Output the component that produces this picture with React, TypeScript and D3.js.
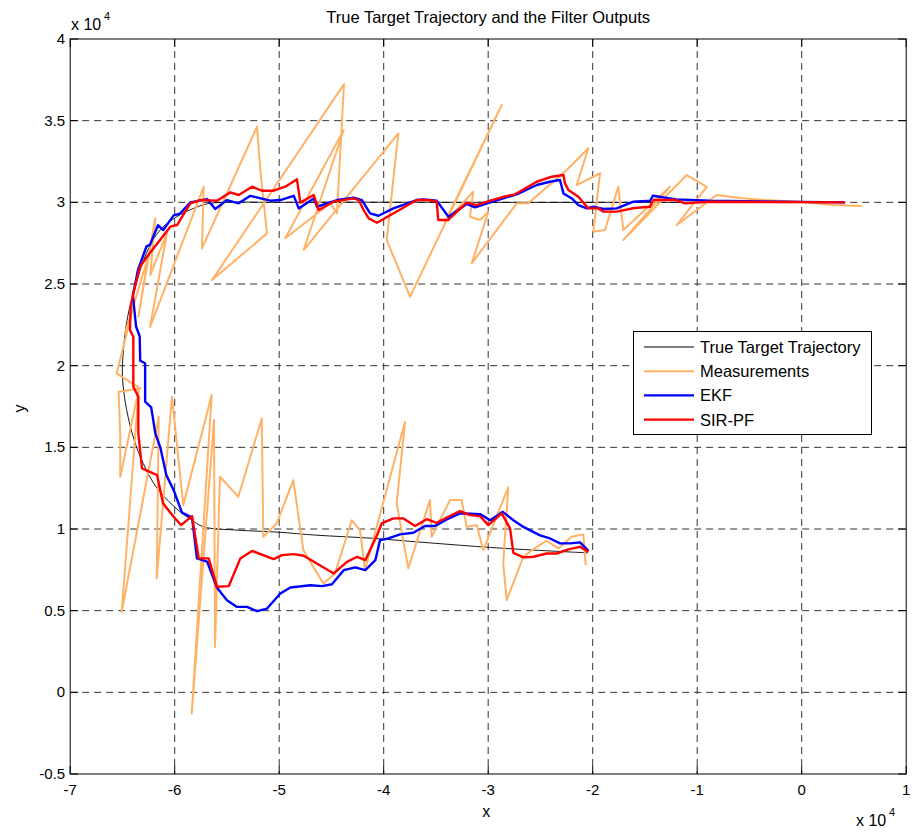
import * as React from 'react';
import * as d3 from 'd3';

// values in units of 1e4
const xTicks = [-7, -6, -5, -4, -3, -2, -1, 0, 1];
const yTicks = [-0.5, 0, 0.5, 1, 1.5, 2, 2.5, 3, 3.5, 4];

const truth: [number, number][] = [
  [0.4, 3.0], [-1.0, 3.0], [-3.0, 3.0], [-5.0, 3.0], [-5.66, 2.994], [-5.82, 2.963],
  [-5.98, 2.912], [-6.14, 2.83], [-6.27, 2.69], [-6.37, 2.5], [-6.45, 2.3], [-6.49, 2.1],
  [-6.5, 1.93], [-6.46, 1.73], [-6.39, 1.55], [-6.3, 1.4], [-6.18, 1.26], [-6.01, 1.14],
  [-5.85, 1.06], [-5.72, 1.013], [-5.4, 0.993], [-5.02, 0.981], [-4.64, 0.962],
  [-4.13, 0.944], [-3.56, 0.915], [-2.98, 0.887], [-2.54, 0.87], [-2.05, 0.854],
];

const measurements: [number, number][] = [
  [0.574, 2.977], [0.299, 2.983], [-0.017, 3.004], [-0.351, 3.014], [-0.591, 3.026],
  [-0.814, 3.045], [-1.196, 2.861], [-0.909, 3.095], [-1.101, 3.167], [-1.707, 2.769],
  [-1.261, 3.095], [-1.707, 2.83], [-1.755, 3.095], [-1.883, 2.83], [-1.994, 2.82],
  [-1.93, 3.178], [-2.153, 3.106], [-2.042, 3.331], [-2.249, 3.198], [-2.616, 2.994],
  [-2.727, 2.994], [-3.158, 2.626], [-2.999, 2.942], [-3.079, 2.892], [-3.174, 2.912],
  [-3.143, 3.065], [-3.414, 2.879], [-2.871, 3.596], [-3.748, 2.422], [-3.971, 2.769],
  [-3.86, 3.422], [-4.766, 2.708], [-4.383, 3.443], [-4.942, 2.78], [-4.511, 2.994],
  [-4.447, 2.933], [-4.38, 3.724], [-5.643, 2.524], [-5.117, 2.81], [-5.181, 3.198],
  [-5.212, 3.463], [-5.739, 2.718], [-5.723, 3.095], [-6.236, 2.236], [-6.074, 2.812],
  [-6.234, 2.555], [-6.186, 2.902], [-6.348, 2.299], [-6.253, 2.667], [-6.476, 2.198],
  [-6.38, 2.402], [-6.555, 1.953], [-6.329, 1.861], [-6.536, 1.84], [-6.521, 1.564],
  [-6.521, 1.319], [-6.345, 1.85], [-6.507, 0.493], [-6.153, 1.687], [-6.172, 0.697],
  [-6.026, 1.809], [-5.918, 1.146], [-5.646, 1.82], [-5.837, -0.129], [-5.624, 1.667],
  [-5.614, 0.278], [-5.567, 1.32], [-5.391, 1.197], [-5.167, 1.677], [-5.152, 0.952],
  [-5.024, 1.034], [-4.865, 1.299], [-4.769, 0.871], [-4.578, 0.667], [-4.466, 0.728],
  [-4.306, 1.054], [-4.227, 0.993], [-4.179, 0.748], [-3.796, 1.656], [-3.876, 1.157],
  [-3.765, 0.759], [-3.557, 1.177], [-3.541, 0.952], [-3.366, 1.177], [-3.254, 1.177],
  [-3.206, 1.013], [-3.11, 1.024], [-3.047, 0.871], [-2.808, 1.255], [-2.856, 0.789],
  [-2.823, 0.564], [-2.664, 0.83], [-2.536, 0.891], [-2.44, 0.928], [-2.329, 0.881],
  [-2.201, 0.952], [-2.09, 0.967], [-2.067, 0.779],
];

const ekf: [number, number][] = [
  [0.415, 3.0], [-0.877, 3.01], [-1.2, 3.018], [-1.425, 3.04], [-1.45, 3.01], [-1.61, 3.004],
  [-1.77, 2.963], [-1.898, 2.959], [-1.994, 2.973], [-2.057, 2.963], [-2.137, 2.983],
  [-2.2, 3.024], [-2.28, 3.055], [-2.313, 3.137], [-2.41, 3.126], [-2.536, 3.106],
  [-2.727, 3.049], [-2.98, 3.0], [-3.126, 2.969], [-3.206, 2.99], [-3.38, 2.912],
  [-3.493, 3.01], [-3.62, 3.018], [-3.684, 3.014], [-3.907, 2.963], [-4.05, 2.918],
  [-4.13, 2.933], [-4.208, 3.014], [-4.287, 3.028], [-4.447, 3.014], [-4.638, 2.973],
  [-4.67, 3.024], [-4.813, 2.963], [-4.861, 3.04], [-4.989, 3.014], [-5.085, 3.01],
  [-5.276, 3.04], [-5.388, 2.994], [-5.5, 3.014], [-5.612, 2.959], [-5.69, 3.02],
  [-5.85, 3.0], [-5.95, 2.93], [-6.01, 2.92], [-6.11, 2.83], [-6.16, 2.86], [-6.236, 2.74],
  [-6.27, 2.73], [-6.35, 2.59], [-6.4, 2.43], [-6.37, 2.24], [-6.335, 2.18], [-6.33, 2.03],
  [-6.283, 2.015], [-6.283, 1.78], [-6.225, 1.745], [-6.185, 1.585], [-6.135, 1.493],
  [-6.08, 1.33], [-6.01, 1.238], [-5.93, 1.1], [-5.834, 1.07], [-5.787, 0.82], [-5.69, 0.8],
  [-5.595, 0.64], [-5.5, 0.564], [-5.404, 0.523], [-5.308, 0.523], [-5.212, 0.497],
  [-5.116, 0.513], [-4.989, 0.605], [-4.893, 0.642], [-4.702, 0.656], [-4.59, 0.65],
  [-4.495, 0.662], [-4.383, 0.748], [-4.272, 0.765], [-4.176, 0.748], [-4.08, 0.809],
  [-4.035, 0.932], [-3.956, 0.942], [-3.844, 0.967], [-3.716, 0.977], [-3.605, 1.018],
  [-3.509, 1.018], [-3.397, 1.059], [-3.27, 1.096], [-3.078, 1.091], [-2.98, 1.054],
  [-2.861, 1.105], [-2.759, 1.054], [-2.663, 1.013], [-2.504, 0.961], [-2.408, 0.942],
  [-2.313, 0.912], [-2.217, 0.912], [-2.121, 0.918], [-2.041, 0.866],
];

const sirPf: [number, number][] = [
  [0.415, 3.0], [-0.877, 3.004], [-1.117, 2.994], [-1.2, 3.014], [-1.42, 3.014],
  [-1.451, 2.973], [-1.6, 2.965], [-1.77, 2.943], [-1.898, 2.943], [-1.946, 2.963],
  [-2.042, 2.963], [-2.137, 3.034], [-2.233, 3.075], [-2.265, 3.116], [-2.28, 3.167],
  [-2.392, 3.157], [-2.536, 3.126], [-2.743, 3.049], [-2.855, 3.034], [-2.98, 3.01],
  [-3.11, 2.983], [-3.206, 2.998], [-3.383, 2.892], [-3.478, 2.892], [-3.493, 3.004],
  [-3.588, 3.014], [-3.684, 3.014], [-4.064, 2.875], [-4.143, 2.902], [-4.192, 2.953],
  [-4.24, 3.014], [-4.287, 3.024], [-4.479, 3.004], [-4.622, 2.953], [-4.67, 3.045],
  [-4.798, 2.998], [-4.83, 3.141], [-4.942, 3.096], [-5.053, 3.071], [-5.165, 3.071],
  [-5.26, 3.096], [-5.388, 3.045], [-5.468, 3.061], [-5.595, 3.01], [-5.755, 3.014],
  [-5.85, 2.994], [-5.978, 2.861], [-6.042, 2.851], [-6.265, 2.667], [-6.332, 2.606],
  [-6.396, 2.443], [-6.421, 2.361], [-6.428, 2.218], [-6.396, 2.177], [-6.396, 1.871],
  [-6.348, 1.81], [-6.348, 1.585], [-6.313, 1.371], [-6.169, 1.33], [-6.112, 1.157],
  [-6.01, 1.075], [-5.94, 1.024], [-5.834, 1.079], [-5.77, 0.82], [-5.675, 0.82],
  [-5.595, 0.646], [-5.483, 0.65], [-5.372, 0.82], [-5.26, 0.866], [-5.053, 0.816],
  [-4.973, 0.84], [-4.861, 0.846], [-4.765, 0.836], [-4.478, 0.728], [-4.351, 0.799],
  [-4.255, 0.83], [-4.176, 0.809], [-4.064, 0.962], [-4.019, 1.034], [-3.907, 1.065],
  [-3.811, 1.065], [-3.7, 1.018], [-3.588, 1.06], [-3.493, 1.038], [-3.381, 1.075],
  [-3.27, 1.11], [-3.174, 1.085], [-3.078, 1.079], [-2.999, 1.024], [-2.871, 1.096],
  [-2.791, 1.004], [-2.759, 0.854], [-2.663, 0.826], [-2.567, 0.83], [-2.44, 0.85],
  [-2.344, 0.85], [-2.233, 0.875], [-2.121, 0.891], [-2.041, 0.86],
];

const legendLabels = ['True Target Trajectory', 'Measurements', 'EKF', 'SIR-PF'];
const seriesColors = ['#000000', '#ffb266', '#0000ff', '#ff0000'];
const seriesWidths = [0.9, 2, 2.4, 2.4];

const FONT = 'Liberation Sans, Arial, Helvetica, sans-serif';

const App = () => {
  const left = 70.2;
  const right = 906.2;
  const top = 39;
  const bottom = 774;

  const x = d3.scaleLinear().domain([-7, 1]).range([left, right]);
  const y = d3.scaleLinear().domain([-0.5, 4]).range([bottom, top]);

  const line = d3
    .line<[number, number]>()
    .x(d => x(d[0]))
    .y(d => y(d[1]));
  const smooth = d3
    .line<[number, number]>()
    .x(d => x(d[0]))
    .y(d => y(d[1]))
    .curve(d3.curveCatmullRom.alpha(0.5));

  const series = [smooth(truth), line(measurements), line(ekf), line(sirPf)];

  const legendX = 633.5;
  const legendY = 331.5;
  const legendRow = 24.2;

  return (
    <svg
      width={915}
      height={835}
      style={{ position: 'absolute', left: 0, top: 0, background: '#fff' }}
      fontFamily={FONT}
    >
      <defs>
        <clipPath id="plot">
          <rect x={left} y={top} width={right - left} height={bottom - top} />
        </clipPath>
      </defs>
      <rect x={0} y={0} width={915} height={835} fill="#fff" />

      {/* grid */}
      <g stroke="#333" strokeWidth={1} strokeDasharray="7,5">
        {xTicks.slice(1, -1).map(t => (
          <line key={'gx' + t} x1={x(t)} x2={x(t)} y1={top} y2={bottom} />
        ))}
        {yTicks.slice(1, -1).map(t => (
          <line key={'gy' + t} x1={left} x2={right} y1={y(t)} y2={y(t)} />
        ))}
      </g>

      {/* data */}
      <g clipPath="url(#plot)" fill="none" strokeLinejoin="round">
        {series.map((d, i) => (
          <path key={i} d={d || ''} stroke={seriesColors[i]} strokeWidth={seriesWidths[i]} />
        ))}
      </g>

      {/* box and ticks */}
      <rect x={left} y={top} width={right - left} height={bottom - top} fill="none" stroke="#000" strokeWidth={1} />
      <g stroke="#000" strokeWidth={1}>
        {xTicks.map(t => (
          <g key={'tx' + t}>
            <line x1={x(t)} x2={x(t)} y1={bottom} y2={bottom - 8} />
            <line x1={x(t)} x2={x(t)} y1={top} y2={top + 8} />
          </g>
        ))}
        {yTicks.map(t => (
          <g key={'ty' + t}>
            <line x1={left} x2={left + 8} y1={y(t)} y2={y(t)} />
            <line x1={right} x2={right - 8} y1={y(t)} y2={y(t)} />
          </g>
        ))}
      </g>

      {/* tick labels */}
      <g fontSize={15} fill="#000">
        {xTicks.map(t => (
          <text key={'lx' + t} x={x(t)} y={bottom + 21} textAnchor="middle">
            {String(t)}
          </text>
        ))}
        {yTicks.map(t => (
          <text key={'ly' + t} x={left - 5} y={y(t) + 5} textAnchor="end">
            {String(t)}
          </text>
        ))}
      </g>

      {/* exponent labels */}
      <text x={71} y={30} fontSize={16}>
        x 10
      </text>
      <text x={104} y={20} fontSize={11}>
        4
      </text>
      <text x={856} y={826} fontSize={16}>
        x 10
      </text>
      <text x={889} y={816} fontSize={11}>
        4
      </text>

      {/* titles */}
      <text x={(left + right) / 2} y={23} textAnchor="middle" fontSize={16.5}>
        True Target Trajectory and the Filter Outputs
      </text>
      <text x={(left + right) / 2 - 2} y={817} textAnchor="middle" fontSize={16}>
        x
      </text>
      <text transform={`translate(25,${(top + bottom) / 2 + 2}) rotate(-90)`} textAnchor="middle" fontSize={16}>
        y
      </text>

      {/* legend */}
      <g>
        <rect x={legendX} y={legendY} width={238} height={103} fill="#fff" stroke="#000" strokeWidth={1} />
        {legendLabels.map((label, i) => {
          const cy = legendY + 15.5 + i * legendRow;
          return (
            <g key={label}>
              <line x1={644} x2={694} y1={cy} y2={cy} stroke={seriesColors[i]} strokeWidth={Math.max(seriesWidths[i], 1)} />
              <text x={700} y={cy + 6} fontSize={16.5}>
                {label}
              </text>
            </g>
          );
        })}
      </g>
    </svg>
  );
};

export default App;
